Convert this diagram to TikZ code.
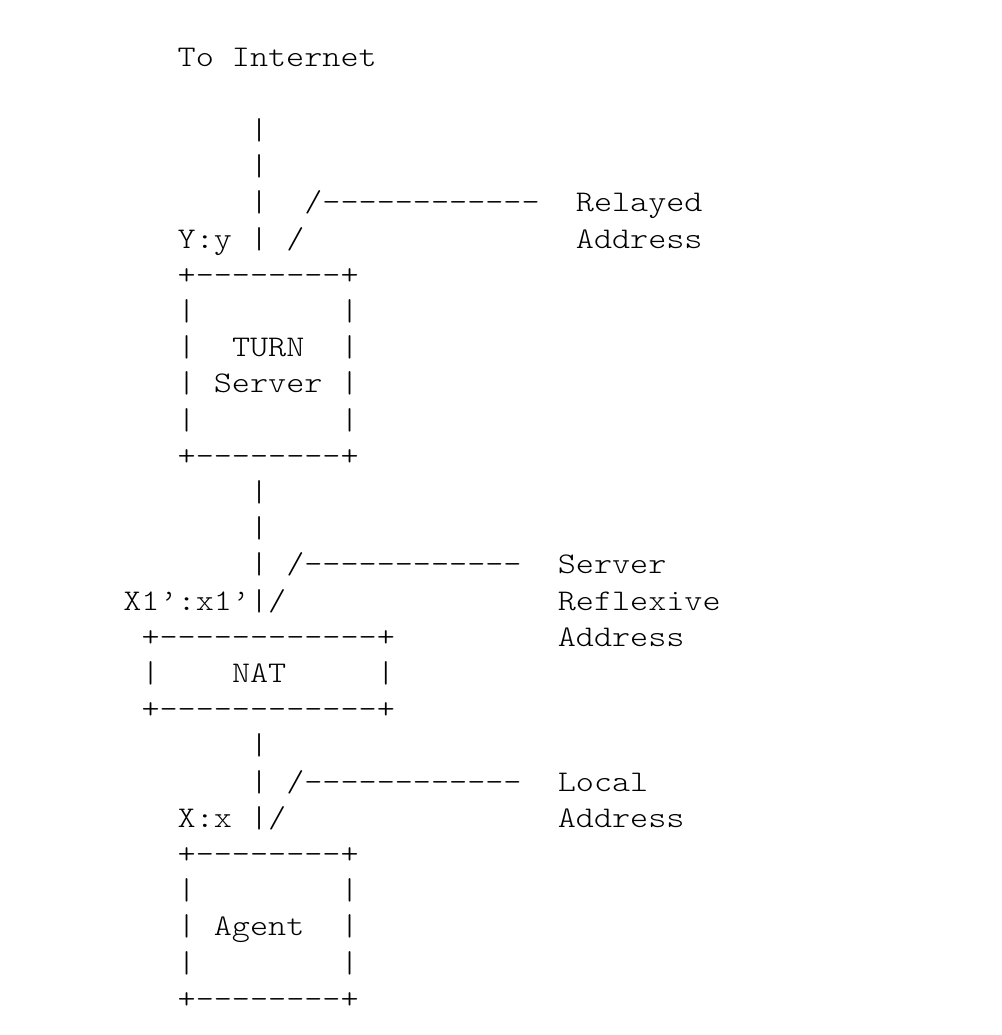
\documentclass[tikz,border=0pt]{standalone}
\usepackage{fontspec}
\usepackage{tikz}
\newfontfamily\asciifont[FakeStretch=1.149]{lmmonolt10-regular.otf}

\begin{document}
\begin{tikzpicture}[x=18.1pt, y=-36.2pt,
    ascii/.style={font={\asciifont\fontsize{30pt}{36pt}\selectfont}, anchor=base west, inner sep=0pt}]
  \useasboundingbox (-123.2pt,67pt) rectangle (877.8pt,-968pt);

  % uplink
  \node[ascii] (inet) at (3,0) {To Internet};
  \foreach \r in {2,...,5}
    \node[ascii] (up\r) at (7,\r) {|};
  \node[ascii] (relDash) at (10,4) {/------------};
  \node[ascii] (relSlash) at (9,5) {/};
  \node[ascii] (yAddr) at (3,5) {Y:y};
  \node[ascii] (relLbl) at (25,4) {Relayed};
  \node[ascii] (relLblB) at (25,5) {Address};

  % TURN server box
  \node[ascii] (turnTop) at (3,6) {+--------+};
  \foreach \r in {7,...,10} {
    \node[ascii] (turnL\r) at (3,\r) {|};
    \node[ascii] (turnR\r) at (12,\r) {|};
  }
  \node[ascii] (turnName) at (6,8) {TURN};
  \node[ascii] (turnNameB) at (5,9) {Server};
  \node[ascii] (turnBot) at (3,11) {+--------+};

  % link to NAT
  \foreach \r in {12,...,15}
    \node[ascii] (mid\r) at (7,\r) {|};
  \node[ascii] (srflxDash) at (9,14) {/------------};
  \node[ascii] (srflxSlash) at (8,15) {/};
  \node[ascii] (x1Addr) at (0,15) {X1’:x1’};
  \node[ascii] (srflxLbl) at (24,14) {Server};
  \node[ascii] (srflxLblB) at (24,15) {Reflexive};
  \node[ascii] (srflxLblC) at (24,16) {Address};

  % NAT box
  \node[ascii] (natTop) at (1,16) {+------------+};
  \node[ascii] (natL) at (1,17) {|};
  \node[ascii] (natName) at (6,17) {NAT};
  \node[ascii] (natR) at (14,17) {|};
  \node[ascii] (natBot) at (1,18) {+------------+};

  % link to agent
  \foreach \r in {19,...,21}
    \node[ascii] (low\r) at (7,\r) {|};
  \node[ascii] (localDash) at (9,20) {/------------};
  \node[ascii] (localSlash) at (8,21) {/};
  \node[ascii] (xAddr) at (3,21) {X:x};
  \node[ascii] (localLbl) at (24,20) {Local};
  \node[ascii] (localLblB) at (24,21) {Address};

  % agent box
  \node[ascii] (agentTop) at (3,22) {+--------+};
  \foreach \r in {23,...,25} {
    \node[ascii] (agentL\r) at (3,\r) {|};
    \node[ascii] (agentR\r) at (12,\r) {|};
  }
  \node[ascii] (agentName) at (5,24) {Agent};
  \node[ascii] (agentBot) at (3,26) {+--------+};
\end{tikzpicture}
\end{document}
